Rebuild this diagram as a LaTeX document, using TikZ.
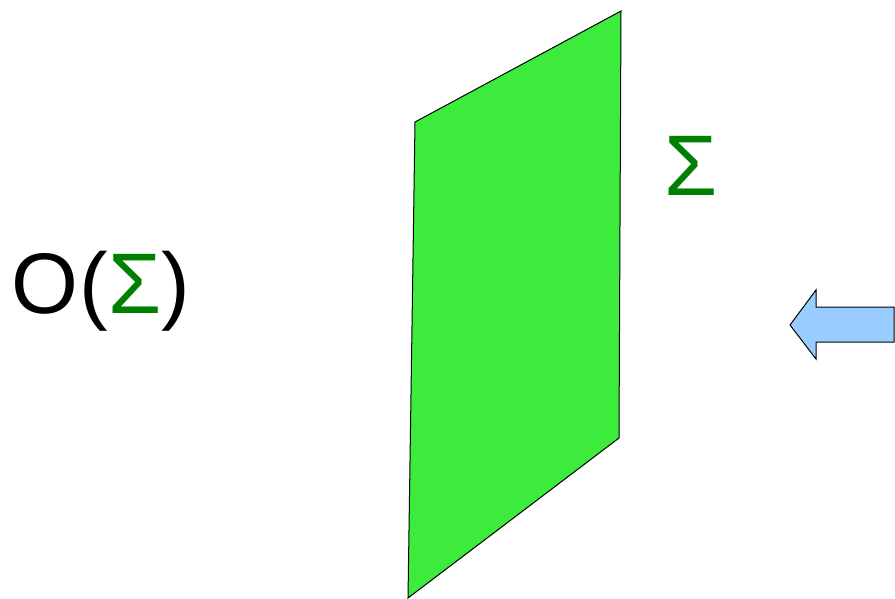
\documentclass[tikz,border=0pt]{standalone}
\usepackage{fontspec}
\setmainfont{Liberation Sans}
\definecolor{planegreen}{HTML}{3DEB3D}
\definecolor{sigmagreen}{HTML}{008000}
\definecolor{arrowblue}{HTML}{99CCFF}
\begin{document}
\begin{tikzpicture}[x=1pt,y=-1pt,
  bigtext/.style={inner sep=0pt,font=\fontsize{86}{103}\selectfont},
  outline/.style={draw=black,line width=1pt,line join=miter}]
\useasboundingbox (0,0) rectangle (895,598);
% plane
\coordinate (p1) at (415,122);
\coordinate (p2) at (621,11);
\coordinate (p3) at (619,438);
\coordinate (p4) at (408,598);
\filldraw[outline,fill=planegreen] (p1) -- (p2) -- (p3) -- (p4) -- cycle;
% arrow
\filldraw[outline,fill=arrowblue] (790,325) -- (816,290) -- (816,307) -- (894,307) -- (894,342) -- (816,342) -- (816,359) -- cycle;
% texts
\node[bigtext,anchor=base west] (osig) at (11,313) {O\kern1pt(\kern1pt\textcolor{sigmagreen}{Σ})};
\node[bigtext,anchor=base west,text=sigmagreen] (sig) at (664,195) {Σ};
\end{tikzpicture}
\end{document}
